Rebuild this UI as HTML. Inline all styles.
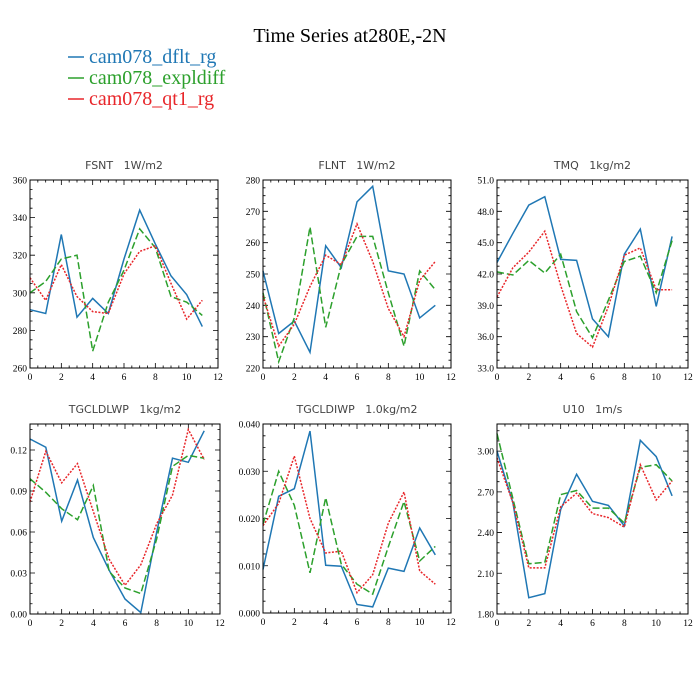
<!DOCTYPE html>
<html><head><meta charset="utf-8"><style>
body{margin:0;background:#fff;}
svg{display:block;}
</style></head><body>
<svg id="chart" width="700" height="700" xmlns="http://www.w3.org/2000/svg">
<rect width="700" height="700" fill="#fff"/>
<text x="350" y="42" text-anchor="middle" font-family="Liberation Serif, serif" font-size="20">Time Series at280E,-2N</text>
<g font-family="Liberation Serif, serif" font-size="20">
<line x1="68" y1="57" x2="84" y2="57" stroke="#1f77b4" stroke-width="1.5"/>
<text x="89" y="63" fill="#1f77b4">cam078_dflt_rg</text>
<line x1="68" y1="78" x2="84" y2="78" stroke="#2ca02c" stroke-width="1.5"/>
<text x="89" y="84" fill="#2ca02c">cam078_expldiff</text>
<line x1="68" y1="99" x2="84" y2="99" stroke="#e8262a" stroke-width="1.5"/>
<text x="89" y="105" fill="#e8262a">cam078_qt1_rg</text>
</g>
</svg>
<script>
const months = [0,1,2,3,4,5,6,7,8,9,10,11];
const xTicks = [0,2,4,6,8,10,12];
const titles = ["FSNT   1W/m2","FLNT   1W/m2","TMQ   1kg/m2","TGCLDLWP   1kg/m2","TGCLDIWP   1.0kg/m2","U10   1m/s"];
const fsntDflt = [291,289,331,287,297,289,318,344,326,309,299,282];
const fsntExpl = [300,306,318,320,269,295,312,334,324,298,295,288];
const fsntQt1  = [308,296,315,298,290,289,310,322,325,305,286,296];
const flntDflt = [251,231,235,225,259,252,273,278,251,250,236,240];
const flntExpl = [244,222,236,265,233,253,262,262,244,227,251,245];
const flntQt1  = [243,227,234,246,256,253,266,254,239,230,248,254];
const tmqDflt = [43.1,45.9,48.6,49.4,43.4,43.3,37.7,36.0,43.9,46.3,38.9,45.6];
const tmqExpl = [42.2,41.9,43.3,42.1,43.9,38.4,35.9,39.5,43.2,43.7,40.2,45.2];
const tmqQt1  = [39.8,42.6,44.1,46.1,40.9,36.3,35.0,38.9,43.8,44.5,40.5,40.5];
const lwpDflt = [.128,.122,.068,.098,.056,.032,.011,.001,.060,.114,.111,.134];
const lwpExpl = [.099,.089,.077,.069,.094,.031,.019,.015,.055,.108,.116,.114];
const lwpQt1  = [.082,.119,.096,.110,.075,.040,.021,.036,.066,.087,.135,.113];
const iwpDflt = [.0092,.0247,.0263,.0385,.0101,.0099,.0018,.0013,.0095,.0088,.0180,.0123];
const iwpExpl = [.0188,.0300,.0228,.0085,.0244,.0103,.0061,.0040,.0140,.0236,.0110,.0141];
const iwpQt1  = [.0185,.0232,.0332,.0200,.0127,.0131,.0043,.0081,.0190,.0256,.0089,.0061];
const u10Dflt = [3.00,2.62,1.92,1.95,2.57,2.83,2.63,2.60,2.45,3.08,2.96,2.67];
const u10Expl = [3.13,2.65,2.17,2.18,2.68,2.71,2.58,2.58,2.47,2.88,2.90,2.78];
const u10Qt1  = [2.95,2.62,2.14,2.14,2.59,2.69,2.54,2.51,2.44,2.90,2.64,2.78];
const yTicks = [
 ["260","280","300","320","340","360"],
 ["220","230","240","250","260","270","280"],
 ["33.0","36.0","39.0","42.0","45.0","48.0","51.0"],
 ["0.00","0.03","0.06","0.09","0.12"],
 ["0.000","0.010","0.020","0.030","0.040"],
 ["1.80","2.10","2.40","2.70","3.00"]
];
const yRanges = [[260,360],[220,280],[33,51],[0,0.139],[0,0.04],[1.8,3.2]];
const series = [
 [fsntDflt,fsntExpl,fsntQt1],[flntDflt,flntExpl,flntQt1],[tmqDflt,tmqExpl,tmqQt1],
 [lwpDflt,lwpExpl,lwpQt1],[iwpDflt,iwpExpl,iwpQt1],[u10Dflt,u10Expl,u10Qt1]
];
const boxes = [[30,180,218,368],[263,180,451,368],[497,180,688,368],[30,424,220,614],[263,424,451,613],[497,424,688,614]];
const colors = ["#1f77b4","#2ca02c","#e8262a"];
const dashes = ["", "7,3", "2,1.5"];
const snames = ["dflt","expldiff","qt1"];
const NS="http://www.w3.org/2000/svg";
const svg=document.getElementById('chart');
function mk(t,a,p){const e=document.createElementNS(NS,t);for(const k in a)e.setAttribute(k,a[k]);(p||svg).appendChild(e);return e;}
boxes.forEach((b,i)=>{
 const [x0,y0,x1,y1]=b;
 const g=mk('g',{});
 
 
 const xs=v=>x0+(v-0)/12*(x1-x0);
 const [ymin,ymax]=yRanges[i];
 const ys=v=>y1-(v-ymin)/(ymax-ymin)*(y1-y0);
 const t=mk('text',{x:(x0+x1)/2,y:y0-11,'text-anchor':'middle','font-family':'DejaVu Sans, sans-serif','font-size':'11','fill':'#444','xml:space':'preserve'},g);
 t.textContent=titles[i].replace(/ /g,'\u00a0');
 
 
 // ticks
 let d='';
 for(let v=0;v<=12;v+=0.5){const x=xs(v);const L=(v%2===0)?5:2.5;d+=`M${x},${y1}v${-L}M${x},${y0}v${L}`;}
 const tk=yTicks[i].map(Number);
 const step=tk[1]-tk[0];
 for(let v=ymin;v<=ymax+1e-9;v+=step/4){const y=ys(v);const maj=Math.abs(((v-tk[0])/step)-Math.round((v-tk[0])/step))<1e-6;const L=maj?5:2.5;d+=`M${x0},${y}h${L}M${x1},${y}h${-L}`;}
 const tp=mk('path',{d:d,stroke:'#000','stroke-width':'0.8',fill:'none'},g);
 
 
 xTicks.forEach(v=>{const e=mk('text',{x:xs(v),y:y1+12,'text-anchor':'middle','font-family':'Liberation Serif, serif','font-size':'9.5'},g);e.textContent=v;
  
  });
 yTicks[i].forEach(s=>{const e=mk('text',{x:x0-3,y:ys(Number(s))+3.5,'text-anchor':'end','font-family':'Liberation Serif, serif','font-size':'9.5'},g);e.textContent=s;
  
  });
 series[i].forEach((arr,k)=>{
  const pts=arr.map((v,j)=>xs(months[j]).toFixed(1)+','+ys(v).toFixed(1)).join(' ');
  const pl=mk('polyline',{points:pts,fill:'none',stroke:colors[k],'stroke-width':'1.5'},g);
  if(dashes[k])pl.setAttribute('stroke-dasharray',dashes[k]);
  
  
 });
 const r=mk('rect',{x:x0,y:y0,width:x1-x0,height:y1-y0,fill:'none',stroke:'#000','stroke-width':'1'},g);
 
 
});
</script>
</body></html>
